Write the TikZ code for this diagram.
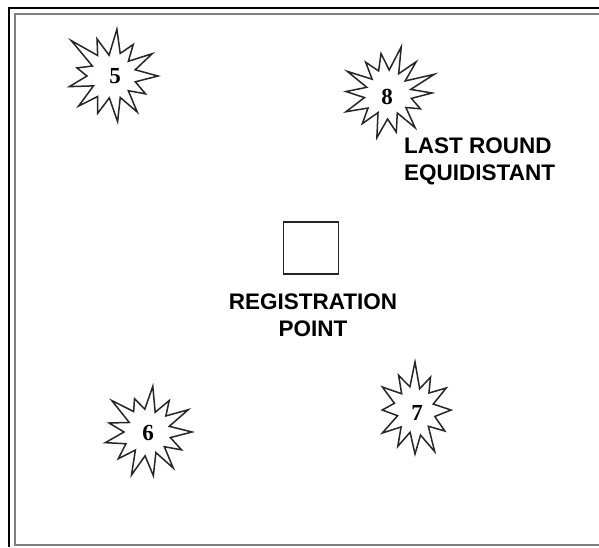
\documentclass[tikz,border=0pt]{standalone}
\usepackage{fontspec}
\setmainfont{Liberation Sans}
\newfontfamily\numfont{Liberation Serif}
\tikzset{
  burst/.style={draw=black!85, line width=1.5pt, line join=miter, fill=white},
  lbl/.style={font=\fontsize{22.5}{27}\selectfont\bfseries, align=left, inner sep=0pt},
  num/.style={font=\numfont\fontsize{23}{26}\selectfont\bfseries, inner sep=0pt},
  outerframe/.style={draw=black, line width=2.2pt},
  innerframe/.style={draw=black!50, line width=2pt},
}
\newcommand\burst[3][]{\draw[burst,shift={(#2)},#1] plot coordinates {#3} -- cycle;}
\begin{document}
\begin{tikzpicture}[x=1pt,y=-1pt]
\useasboundingbox (0,0) rectangle (599,547);
% frame
\draw[outerframe] (599,8) -- (9,8) -- (9,547);
\draw[innerframe] (599,14) -- (15,14) -- (15,545) -- (599,545);
% star 5
\burst{112,76}{(0:46) (14:24) (28:38) (42:22) (55:44) (69:23) (83:46) (97:22) (111:40) (125:25) (138:45) (152:21) (166:44) (180:25) (193:36) (207:22) (221:54) (235:25) (248:40) (262:21) (276:47) (290:24) (304:38) (318:22) (331:46) (345:24)}
% star 8
\burst{388,93}{(0:44) (13:24) (26:36) (39:23) (52:44) (65:22) (78:40) (91:26) (104:46) (117:22) (130:40) (143:25) (156:46) (169:24) (182:42) (195:22) (208:46) (221:21) (234:38) (247:24) (260:40) (273:23) (286:48) (299:22) (312:42) (325:21) (338:50) (351:23)}
% star 6
\burst{148,432}{(0:44) (14:23) (28:38) (42:22) (55:44) (69:22) (83:44) (97:24) (111:46) (125:22) (138:40) (152:25) (166:44) (180:24) (193:40) (207:21) (221:48) (235:25) (248:36) (262:23) (276:46) (290:21) (304:38) (318:24) (331:46) (345:22)}
% star 7
\burst[xscale=0.82]{415,410}{(0:44) (15:25) (30:42) (45:23) (60:48) (75:26) (90:44) (105:23) (120:42) (135:24) (150:46) (165:22) (180:40) (195:26) (210:46) (225:23) (240:40) (255:24) (270:48) (285:22) (300:38) (315:24) (330:44) (345:23)}
% numbers
\node[num] (n5) at (115,76) {5};
\node[num] (n8) at (387,97) {8};
\node[num] (n6) at (148,433) {6};
\node[num] (n7) at (417,413) {7};
% registration point
\node[draw=black!85, line width=1.2pt, minimum width=55pt, minimum height=52pt, inner sep=0pt] (reg) at (311,248) {};
\node[lbl, align=center] (regtxt) at (313,315) {REGISTRATION\\POINT};
\node[lbl, anchor=west] (last) at (404,161) {LAST ROUND\\EQUIDISTANT};
\end{tikzpicture}
\end{document}
